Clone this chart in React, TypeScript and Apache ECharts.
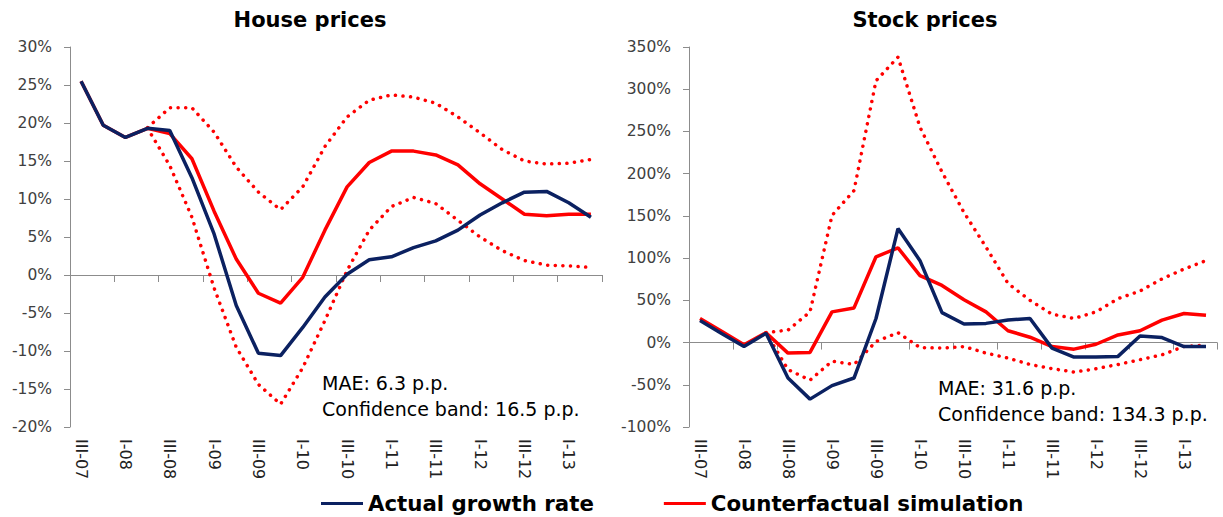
import React, { useEffect, useRef } from "react";
import * as echarts from "echarts";

const categories = [
  "III-07", "IV-07", "I-08", "II-08", "III-08", "IV-08", "I-09", "II-09",
  "III-09", "IV-09", "I-10", "II-10", "III-10", "IV-10", "I-11", "II-11",
  "III-11", "IV-11", "I-12", "II-12", "III-12", "IV-12", "I-13", "II-13",
];

const houseActual = [25.5, 19.7, 18.1, 19.3, 19.0, 12.8, 5.4, -4.0, -10.3, -10.6, -6.9, -2.9, 0.1, 2.0, 2.4, 3.6, 4.5, 5.9, 7.9, 9.5, 10.9, 11.0, 9.5, 7.6];
const houseCounter = [25.5, 19.7, 18.1, 19.3, 18.6, 15.3, 8.4, 2.1, -2.4, -3.7, -0.3, 5.9, 11.6, 14.8, 16.3, 16.3, 15.8, 14.5, 12.0, 10.0, 8.0, 7.8, 8.0, 8.0];
const houseUpper = [null, null, null, 19.4, 22.0, 22.0, 18.8, 14.2, 10.9, 8.6, 11.6, 16.9, 20.8, 23.0, 23.7, 23.4, 22.6, 20.8, 18.7, 16.5, 15.0, 14.6, 14.7, 15.2];
const houseLower = [null, null, null, 19.3, 14.4, 7.6, -1.7, -9.5, -14.4, -17.0, -12.2, -6.0, 0.6, 5.9, 9.0, 10.2, 9.4, 7.2, 5.0, 3.2, 1.9, 1.3, 1.2, 1.0];

const stockActual = [26, 10.5, -4.7, 11, -42, -67, -51, -42, 28.5, 135, 97, 35.5, 21.9, 22.7, 26.6, 28.5, -6.6, -17.2, -17.2, -16.4, 7.8, 5.9, -4.7, -4.7];
const stockCounter = [28.5, 13, -2.7, 11.7, -12.5, -11.7, 36.3, 41, 101.6, 112.2, 79.3, 67.6, 50.8, 36.3, 14, 6.3, -4.7, -7.8, -2, 9, 14, 26.6, 34.4, 32.4];
const stockUpper = [null, null, null, 11.7, 14.8, 36.3, 150.5, 180, 310, 338, 255, 202, 154, 113, 70, 50, 33.6, 28.5, 36.3, 52, 61, 75.4, 87, 97];
const stockLower = [null, null, null, 11.7, -32, -44.5, -22, -26, 1.2, 11.7, -5.9, -6.6, -4.7, -12.5, -18.4, -26, -30.9, -35, -31, -26, -20.3, -14.5, -4.7, -3];

const yTicksHouse = { min: -20, max: 30, interval: 5 };
const yTicksStock = { min: -100, max: 350, interval: 50 };

const titles = ["House prices", "Stock prices"];
const notesHouse = ["MAE: 6.3 p.p.", "Confidence band: 16.5 p.p."];
const notesStock = ["MAE: 31.6 p.p.", "Confidence band: 134.3 p.p."];

const NAVY = "#0b2161";
const RED = "#ff0000";
const FONT = "DejaVu Sans";

export default function App() {
  const ref = useRef<HTMLDivElement>(null);
  useEffect(() => {
    if (!ref.current) return;
    const chart = echarts.init(ref.current, undefined, { renderer: "svg" });

    const grids = [
      { left: 70, right: 621, top: 47, bottom: 90 },
      { left: 689, right: 6, top: 47, bottom: 90 },
    ];
    const xAxes: any[] = [];
    const yAxes: any[] = [];
    const ranges = [yTicksHouse, yTicksStock];
    [0, 1].forEach((g) => {
      xAxes.push({
        type: "category",
        gridIndex: g,
        data: categories,
        position: "top",
        boundaryGap: true,
        axisLine: { onZero: true, lineStyle: { color: "#8c8c8c", width: 1 } },
        axisTick: { show: true, inside: true, length: 7, lineStyle: { color: "#8c8c8c" } },
        axisLabel: { show: false },
        splitLine: { show: false },
      });
      xAxes.push({
        type: "category",
        gridIndex: g,
        data: categories,
        position: "bottom",
        boundaryGap: true,
        axisLine: { show: false, onZero: false },
        axisTick: { show: false },
        axisLabel: {
          show: true,
          interval: 1,
          rotate: -90,
          margin: 12,
          fontSize: 16,
          color: "#222",
          fontFamily: FONT,
        },
        splitLine: { show: false },
      });
      yAxes.push({
        type: "value",
        gridIndex: g,
        min: ranges[g].min,
        max: ranges[g].max,
        interval: ranges[g].interval,
        axisLine: { show: true, lineStyle: { color: "#8c8c8c", width: 1 } },
        axisTick: { show: true, length: 6, lineStyle: { color: "#8c8c8c" } },
        axisLabel: {
          formatter: (v: number) => `${v}%`,
          fontSize: 15.5,
          color: "#404040",
          fontFamily: FONT,
          margin: 18,
        },
        splitLine: { show: false },
      });
    });

    const dotted = { color: RED, width: 3.5, type: [0.1, 7.5] as any, cap: "round" as any };
    const mk = (name: string, data: any[], g: number, style: any, z: number) => ({
      name,
      type: "line",
      xAxisIndex: g * 2,
      yAxisIndex: g,
      data,
      symbol: "none",
      lineStyle: style,
      itemStyle: { color: style.color },
      connectNulls: false,
      z,
    });

    const series = [
      mk("Upper band H", houseUpper, 0, dotted, 2),
      mk("Lower band H", houseLower, 0, dotted, 2),
      mk("Counterfactual simulation", houseCounter, 0, { color: RED, width: 3.5 }, 3),
      mk("Actual growth rate", houseActual, 0, { color: NAVY, width: 3.5 }, 4),
      mk("Upper band S", stockUpper, 1, dotted, 2),
      mk("Lower band S", stockLower, 1, dotted, 2),
      mk("Counterfactual simulation", stockCounter, 1, { color: RED, width: 3.5 }, 3),
      mk("Actual growth rate", stockActual, 1, { color: NAVY, width: 3.5 }, 4),
    ];

    const text = (s: string, x: number, y: number, size: number, bold: boolean, align = "left") => ({
      type: "text",
      x,
      y,
      style: {
        text: s,
        fontSize: size,
        fontWeight: bold ? "bold" : "normal",
        fontFamily: FONT,
        fill: "#000",
        textAlign: align,
        textVerticalAlign: "middle",
      },
    });

    chart.setOption({
      animation: false,
      grid: grids,
      xAxis: xAxes,
      yAxis: yAxes,
      series,
      legend: {
        data: ["Actual growth rate", "Counterfactual simulation"],
        left: 316,
        top: 488,
        icon: "rect",
        itemWidth: 42,
        itemHeight: 3,
        itemGap: 70,
        textStyle: { fontSize: 21.3, fontWeight: "bold", color: "#000", fontFamily: FONT },
      },
      graphic: [
        text(titles[0], 310, 20, 21, true, "center"),
        text(titles[1], 925, 20, 21, true, "center"),
        text(notesHouse[0], 322, 383, 19, false),
        text(notesHouse[1], 322, 409, 19, false),
        text(notesStock[0], 938, 388, 19, false),
        text(notesStock[1], 938, 414, 19, false),
      ],
    });
    return () => chart.dispose();
  }, []);
  return (
    <div
      ref={ref}
      style={{ position: "absolute", left: 0, top: 0, width: 1223, height: 517, background: "#fff" }}
    />
  );
}
